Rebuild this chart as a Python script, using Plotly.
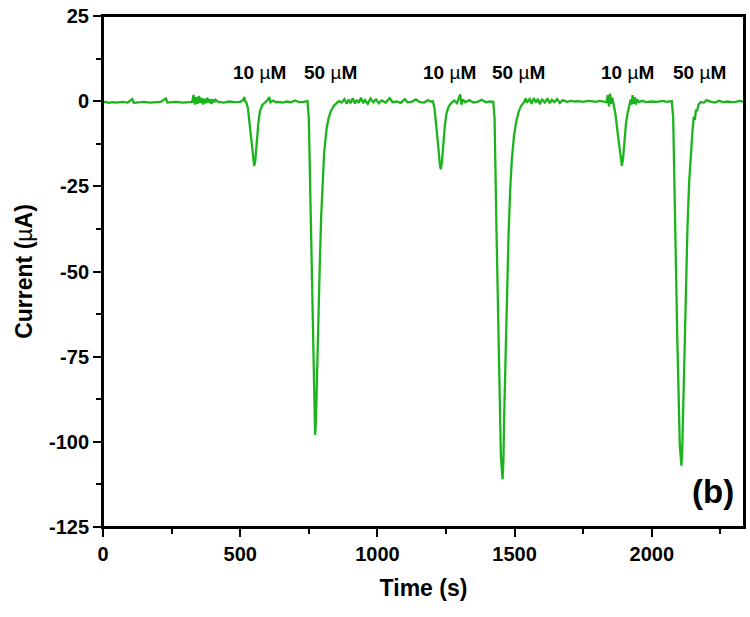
import plotly.graph_objects as go

# ---- data (time in s, current in µA) ----
time_s = [
    0, 10, 20, 35, 50, 70, 90, 107, 112, 130, 150, 170, 190, 210, 229, 235, 250, 270, 290, 310,
    325, 330, 335, 340, 345, 350, 355, 360, 365, 370, 375, 380, 385, 390, 395, 400, 405, 410, 420,
    440, 460, 480, 500, 510, 515, 518,
    521, 528, 535, 542, 548, 551, 555, 560, 566, 572, 580, 590, 600, 606, 610, 620, 630,
    640, 655, 670, 685, 700, 715, 730, 740,
    745, 750, 757, 765, 771, 773, 776, 780, 785, 790, 795, 800, 806, 815, 822, 830, 840, 852, 860,
    870, 880, 888, 895, 902, 910, 918, 925, 932, 940, 948, 955, 965, 975, 985, 995, 1005, 1015,
    1030, 1045, 1055, 1070, 1085, 1100, 1110, 1125, 1140, 1155, 1170, 1185, 1195,
    1202, 1208, 1215, 1222, 1228, 1231, 1235, 1240, 1246, 1252, 1260, 1270, 1280, 1290, 1297,
    1302, 1306, 1312, 1320, 1335, 1350, 1365, 1380, 1395, 1410, 1418,
    1422, 1427, 1434, 1442, 1450, 1456, 1459, 1463, 1468, 1473, 1478, 1484, 1490, 1498, 1506,
    1515, 1525, 1535, 1540, 1545,
    1555, 1562, 1570, 1578, 1585, 1592, 1600, 1610, 1620, 1628, 1636, 1645, 1655, 1665, 1675,
    1690, 1705, 1720, 1735, 1750, 1765, 1780, 1795, 1810, 1825, 1835, 1840, 1844, 1848, 1852,
    1856, 1860,
    1863, 1868, 1875, 1882, 1888, 1891, 1895, 1900, 1906, 1912, 1918, 1923, 1926, 1930, 1934,
    1938, 1942, 1946, 1952, 1965, 1980, 2000, 2020, 2040, 2055, 2068,
    2073, 2078, 2085, 2093, 2102, 2108, 2111, 2115, 2120, 2125, 2130, 2136, 2142, 2148, 2153,
    2157, 2161, 2165, 2170, 2178, 2190, 2200, 2215, 2230, 2245, 2260, 2275, 2290, 2305, 2320, 2338,
]
current_uA = [
    -0.4, -0.2, -0.5, -0.3, -0.4, -0.2, -0.4, 0.6, -0.5, -0.3, -0.2, -0.4, -0.3, -0.2, 0.8, -0.4, -0.3, -0.2, -0.4, -0.3,
    -0.2, 1.8, -1.0, 1.2, -0.8, 1.5, -0.5, 0.9, -1.0, 0.7, -0.6, 1.0, -0.4, 0.6, -0.8, 0.5, -0.3, 0.4, -0.2,
    -0.4, -0.1, -0.3, -0.2, 0.3, 1.2, -0.3,
    0.0, -2.0, -7.0, -13.0, -18.0, -19.0, -17.5, -12.0, -6.5, -3.0, -1.2, -0.4, 0.3, 1.2, -0.3, 0.2, -0.3,
    -0.2, -0.4, -0.1, -0.3, 0.2, -0.3, -0.2, -0.1,
    0.0, -5.0, -34.0, -64.0, -93.0, -98.0, -94.0, -78.0, -64.0, -48.0, -34.0, -25.0, -15.0, -8.0, -5.0, -3.0, -1.5, -0.5, 0.0,
    -0.4, 0.6, -0.8, 0.5, -0.6, 0.9, -0.7, 0.4, -0.5, 1.0, -0.6, 0.3, -0.8, 0.8, -0.3, 0.5, -0.6, 0.2,
    -0.4, 0.9, -0.3, -0.1, -0.5, 0.6, -0.3, -0.2, 0.5, -0.3, -0.4, 0.3, -0.2,
    0.0, -2.0, -7.0, -13.5, -19.0, -20.0, -18.0, -12.5, -7.0, -3.5, -1.5, -0.5, 0.2, -0.6, 0.9,
    2.0, -1.0, 0.5, -0.3, 0.3, -0.4, -0.2, 0.4, -0.3, -0.1, -0.3,
    0.0, -5.0, -38.0, -72.0, -104.0, -111.0, -106.0, -89.0, -72.0, -54.0, -39.0, -26.0, -17.0, -10.0, -6.0,
    -3.0, -1.2, -0.2, 0.8, -0.4,
    0.6, -0.8, 0.9, -0.5, 0.7, -0.9, 0.5, -0.4, 0.8, -0.6, 0.4, -0.3, 0.6, -0.5, 0.3,
    -0.2, 0.1, -0.1, 0.0, -0.2, 0.1, 0.0, -0.2, 0.1, -0.1, -0.3, 1.8, -1.5, 2.2, -0.8,
    1.0, -0.5,
    -1.5, -4.0, -9.0, -14.0, -18.0, -19.0, -17.0, -12.0, -6.5, -3.5, -1.5, 0.5, -1.0, 1.8, -0.8,
    1.2, -1.0, 0.6, -0.3, 0.1, -0.3, -0.1, -0.2, 0.1, -0.2, -0.1,
    0.0, -5.0, -37.0, -70.0, -101.0, -107.0, -102.0, -86.0, -69.0, -51.0, -37.0, -24.0, -15.0, -9.0, -4.5,
    -5.5, -2.5, -3.0, -1.0, -0.3, -0.4, 0.3, -0.2, -0.4, 0.1, -0.3, -0.1, -0.3, -0.2, 0.1, -0.3,
]

label_texts = ["10", "50", "10", "50", "10", "50"]
label_times = [572, 828, 1262, 1516, 1912, 2173]
label_level = 8.4

x_ticks = [0, 500, 1000, 1500, 2000]
y_ticks = [25, 0, -25, -50, -75, -100, -125]

FONT = "Liberation Sans, Arial, sans-serif"

fig = go.Figure()
fig.add_trace(go.Scatter(
    x=time_s, y=current_uA, mode="lines",
    line=dict(color="#1cb41c", width=2.3),
    showlegend=False, hoverinfo="skip",
))

for txt, t in zip(label_texts, label_times):
    fig.add_annotation(
        x=t, y=label_level, xref="x", yref="y",
        text=f"<b>{txt} </b>µ<b>M</b>", showarrow=False,
        font=dict(family=FONT, size=19, color="black"),
        xanchor="center", yanchor="middle",
    )

fig.add_annotation(
    x=2224, y=-114.5, xref="x", yref="y", text="<b>(b)</b>", showarrow=False,
    font=dict(family=FONT, size=33, color="black"), xanchor="center", yanchor="middle",
)

# frame around the plotting area
fig.add_shape(type="rect", xref="paper", yref="paper", x0=0, x1=1, y0=0, y1=1,
              line=dict(color="black", width=2), fillcolor="rgba(0,0,0,0)", layer="above")

axis_common = dict(
    showline=True, linecolor="black", linewidth=2, mirror=True,
    ticks="outside", ticklen=8, tickwidth=2, tickcolor="black",
    showgrid=False, zeroline=False, automargin=False,
    tickfont=dict(family=FONT, size=20, color="black", weight="bold"),
)

fig.update_xaxes(
    range=[0, 2336], tickvals=x_ticks, ticktext=[str(v) for v in x_ticks],
    minor=dict(ticks="outside", ticklen=5, tickwidth=2, tickcolor="black", dtick=250, tick0=0),
    title=dict(text="<b>Time (s)</b>", font=dict(family=FONT, size=23, color="black"), standoff=16),
    **axis_common,
)
fig.update_yaxes(
    range=[-125, 25], tickvals=y_ticks, ticktext=[str(v) for v in y_ticks],
    minor=dict(ticks="outside", ticklen=5, tickwidth=2, tickcolor="black", dtick=12.5, tick0=0),
    title=dict(text="<b>Current (</b>µ<b>A)</b>", font=dict(family=FONT, size=23, color="black"), standoff=10),
    **axis_common,
)

fig.update_layout(
    width=750, height=617,
    margin=dict(l=103, r=6, t=16, b=90),
    plot_bgcolor="white", paper_bgcolor="white",
)

# remove the browser's default body margin so the figure sits at the page origin
fig.write_html(
    "out.html",
    config={"displayModeBar": False},
    post_script="document.body.style.margin='0';document.body.style.overflow='hidden';",
)
